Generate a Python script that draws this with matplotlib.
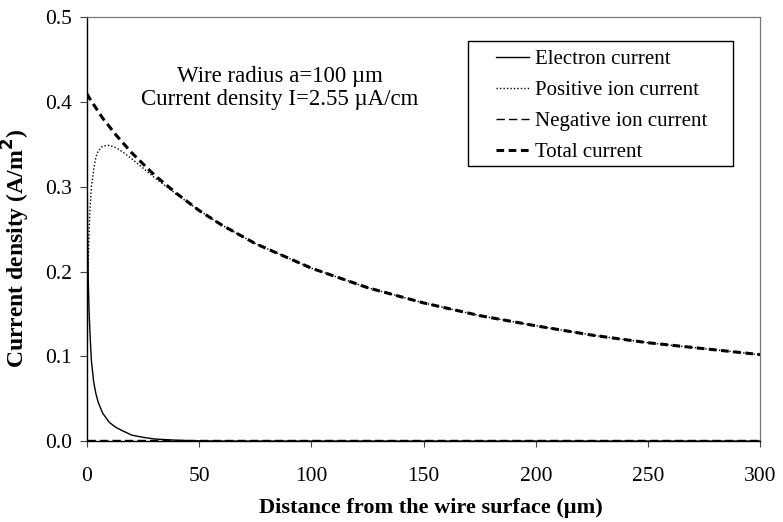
import numpy as np
import matplotlib
matplotlib.use('Agg')
import matplotlib.pyplot as plt
from matplotlib.patches import Rectangle

plt.rcParams['font.family'] = ['Liberation Serif', 'DejaVu Serif']

# distances from the wire surface (um) and currents (A/m^2)
x_near = [0, 0.3, 0.6, 1, 1.5, 2, 3, 4, 5, 7, 10, 13, 16, 20, 25, 30, 40, 50, 60,
          75, 100, 125, 150, 175, 200, 225, 250, 275, 300]
electron = [0.36, 0.25, 0.19, 0.15, 0.12, 0.095, 0.07, 0.056, 0.046, 0.033, 0.022,
            0.016, 0.012, 0.007, 0.0045, 0.0025, 0.001, 0.0003, 0.0, 0.0, 0.0, 0.0,
            0.0, 0.0, 0.0, 0.0, 0.0, 0.0, 0.0]
positive = [0.05, 0.16, 0.21, 0.25, 0.28, 0.30, 0.32, 0.335, 0.342, 0.348, 0.349,
            0.346, 0.341, 0.333, 0.322, 0.311, 0.291, 0.272, 0.255, 0.233, 0.204,
            0.181, 0.163, 0.148, 0.136, 0.125, 0.116, 0.109, 0.102]
negative = [0.001, 0.001, 0.001, 0.001, 0.001, 0.001, 0.001, 0.001, 0.001, 0.001,
            0.001, 0.001, 0.001, 0.001, 0.001, 0.001, 0.001, 0.001, 0.001, 0.001,
            0.001, 0.001, 0.001, 0.001, 0.001, 0.001, 0.001, 0.001, 0.001]
total = [0.410, 0.408, 0.407, 0.405, 0.403, 0.401, 0.397, 0.393, 0.389, 0.381, 0.371,
         0.361, 0.352, 0.340, 0.327, 0.314, 0.292, 0.272, 0.255, 0.233, 0.204,
         0.181, 0.163, 0.148, 0.136, 0.125, 0.116, 0.109, 0.102]

fig = plt.figure(figsize=(7.83, 5.22), dpi=100)
ax = fig.add_axes([0.111, 0.155, 0.860, 0.812])

ax.plot(x_near, electron, color='black', lw=1.0, label='Electron current')
ax.plot(x_near, positive, color='black', lw=1.0, linestyle=(0, (1, 1.5)),
        label='Positive ion current')
ax.plot(x_near, negative, color='black', lw=1.0, linestyle=(0, (6, 3)),
        label='Negative ion current')
ax.plot(x_near, total, color='black', lw=2.2, linestyle=(0, (2.5, 1.5)),
        label='Total current')

ax.set_xlim(0, 300)
ax.set_ylim(0, 0.5)
ax.set_xticks([0, 50, 100, 150, 200, 250, 300])
ax.set_yticks([0.0, 0.1, 0.2, 0.3, 0.4, 0.5])
ax.set_yticklabels(['0.0', '0.1', '0.2', '0.3', '0.4', '0.5'])
ax.tick_params(direction='out', width=0.8, labelsize=15.5, color='#444444')
ax.tick_params(axis='y', length=5, pad=6)
ax.tick_params(axis='x', length=4, pad=15)

for s in ['top', 'right']:
    ax.spines[s].set_color('#777777')
    ax.spines[s].set_linewidth(0.9)
    ax.spines[s].set_linestyle((0, (1, 1)))
ax.spines['left'].set_linewidth(1.0)
ax.spines['bottom'].set_linewidth(1.0)

ax.set_xlabel('Distance from the wire surface (µm)', fontsize=16,
              fontweight='bold')
ax.xaxis.set_label_coords(0.511, -0.135)
ax.set_ylabel('Current density (A/m$^\\mathbf{2}$)', fontsize=17,
              fontweight='bold')
ax.yaxis.set_label_coords(-0.082, 0.455)

ax.text(0.287, 0.833, 'Wire radius a=100 µm\nCurrent density I=2.55 µA/cm',
        transform=ax.transAxes, ha='center', va='center', fontsize=16.5,
        linespacing=1.1)

# legend entries without frame, wider box drawn around them
leg = ax.legend(loc='upper left', bbox_to_anchor=(0.595, 0.943),
                borderaxespad=0, fontsize=15, frameon=False,
                handlelength=1.6, handletextpad=0.3,
                borderpad=0.4, labelspacing=0.55)
ax.add_patch(Rectangle((0.566, 0.649), 0.394, 0.294, transform=ax.transAxes,
                       fill=False, edgecolor='black', lw=1.0, zorder=5))

fig.savefig('out.png', dpi=100)
